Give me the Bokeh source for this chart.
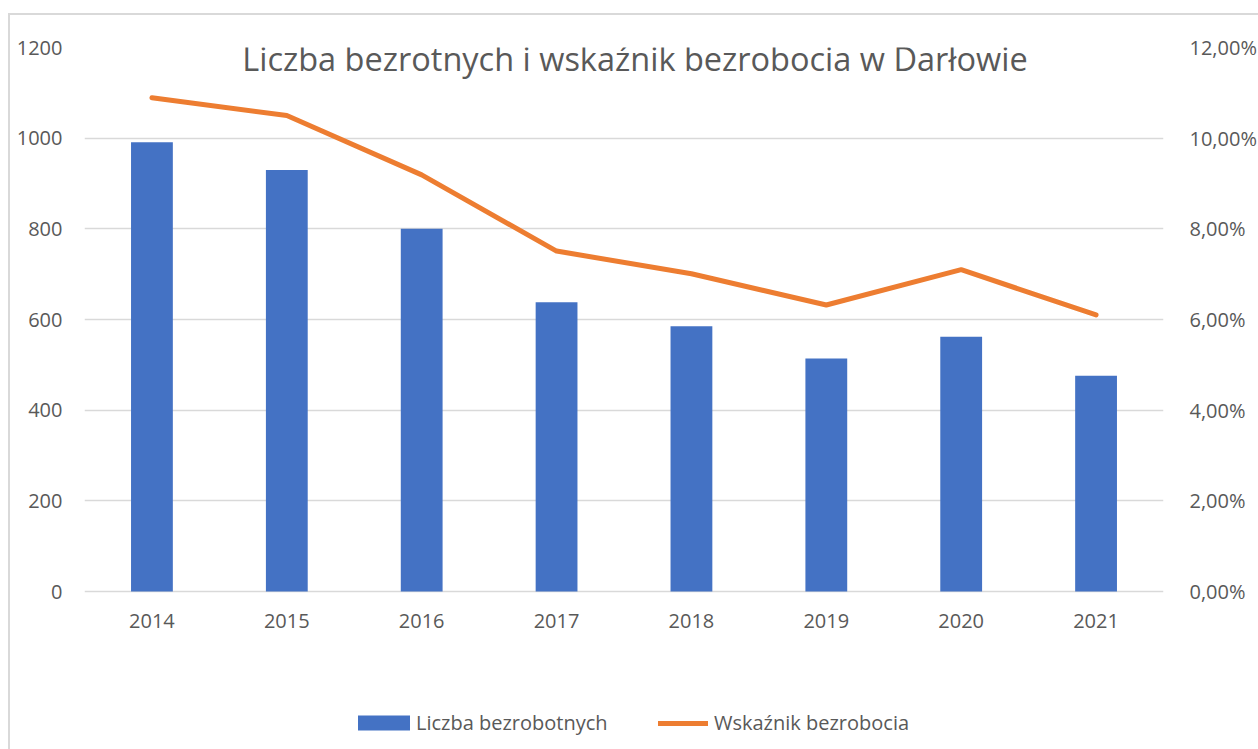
from bokeh.plotting import figure
from bokeh.models import (Range1d, LinearAxis, FixedTicker, CustomJSTickFormatter,
                          Legend, LegendItem, Label, FactorRange)
from bokeh.embed import file_html
from bokeh.resources import INLINE

# ---- data ----
years = ["2014", "2015", "2016", "2017", "2018", "2019", "2020", "2021"]
unemployed = [991, 930, 800, 638, 585, 514, 562, 476]
rate = [0.1089, 0.1050, 0.0919, 0.0751, 0.0701, 0.0632, 0.0710, 0.0610]
left_ticks = [0, 200, 400, 600, 800, 1000, 1200]
right_ticks = [0, 0.02, 0.04, 0.06, 0.08, 0.10, 0.12]
title_text = "Liczba bezrotnych i wskaźnik bezrobocia w Darłowie"
bar_label = "Liczba bezrobotnych"
line_label = "Wskaźnik bezrobocia"

# axis extents (bottom part of the frame is left empty for the category labels and legend)
LEFT_MIN, LEFT_MAX = -344, 1200
RIGHT_MIN, RIGHT_MAX = -0.0344, 0.12

FONT = "Open Sans"
TXT = "#595959"
GRID = "#d9d9d9"
BLUE = "#4472C4"
ORANGE = "#ED7D31"

p = figure(x_range=FactorRange(*years), y_range=Range1d(LEFT_MIN, LEFT_MAX),
           width=1250, height=736, output_backend="svg", toolbar_location=None,
           min_border_left=74, min_border_right=97, min_border_top=32,
           min_border_bottom=4)
p.margin = (13, 0, 0, 8)
p.styles = {"border-left": "2px solid #d9d9d9", "border-top": "2px solid #d9d9d9",
            "box-sizing": "border-box"}
p.outline_line_color = None
p.background_fill_color = "white"
p.border_fill_color = "white"

p.extra_y_ranges = {"right": Range1d(RIGHT_MIN, RIGHT_MAX)}

bars = p.vbar(x=years, top=unemployed, width=0.31, fill_color=BLUE, line_color=None)
line = p.line(x=years, y=rate, y_range_name="right", line_color=ORANGE,
              line_width=5, line_cap="round", line_join="round")

# grid
p.xgrid.grid_line_color = None
p.ygrid.grid_line_color = GRID
p.ygrid.grid_line_width = 1.5
p.ygrid.ticker = FixedTicker(ticks=left_ticks)

# left axis
ya = p.yaxis[0]
ya.ticker = FixedTicker(ticks=left_ticks)
ya.axis_line_color = None
ya.major_tick_line_color = None
ya.minor_tick_line_color = None
ya.major_label_standoff = 16
ya.major_label_text_font = FONT
ya.major_label_text_font_size = "20px"
ya.major_label_text_color = TXT

# right axis
ra = LinearAxis(y_range_name="right", ticker=FixedTicker(ticks=right_ticks),
                formatter=CustomJSTickFormatter(code="return (tick*100).toFixed(2).replace('.', ',') + '%';"))
ra.axis_line_color = None
ra.major_tick_line_color = None
ra.minor_tick_line_color = None
ra.major_label_standoff = 20
ra.major_label_text_font = FONT
ra.major_label_text_font_size = "20px"
ra.major_label_text_color = TXT
p.add_layout(ra, "right")

# x axis drawn at value 0
xa = p.xaxis[0]
xa.fixed_location = 0
xa.axis_line_color = None
xa.major_tick_line_color = None
xa.minor_tick_line_color = None
xa.major_label_standoff = 16
xa.major_label_text_font = FONT
xa.major_label_text_font_size = "20px"
xa.major_label_text_color = TXT

# title inside the chart area
t = Label(x=4, y=1175, x_offset=11, text=title_text, text_align="center",
          text_baseline="alphabetic", text_font=FONT, text_font_size="32.5px",
          text_color=TXT)
p.add_layout(t)

# legends (in the empty bottom part of the frame)
def make_legend(item, xloc, gw, gh, standoff):
    return Legend(items=[item], location=(xloc, 11), orientation="horizontal",
                  padding=0, margin=0, border_line_color=None,
                  background_fill_alpha=0, glyph_width=gw, glyph_height=gh,
                  label_standoff=standoff, label_text_font=FONT,
                  label_text_font_size="20px", label_text_color=TXT)

p.add_layout(make_legend(LegendItem(label=bar_label, renderers=[bars]), 267, 65, 19, 0))
p.add_layout(make_legend(LegendItem(label=line_label, renderers=[line]), 574, 50, 14, 6))

open("out.html", "w").write(file_html(p, INLINE))
